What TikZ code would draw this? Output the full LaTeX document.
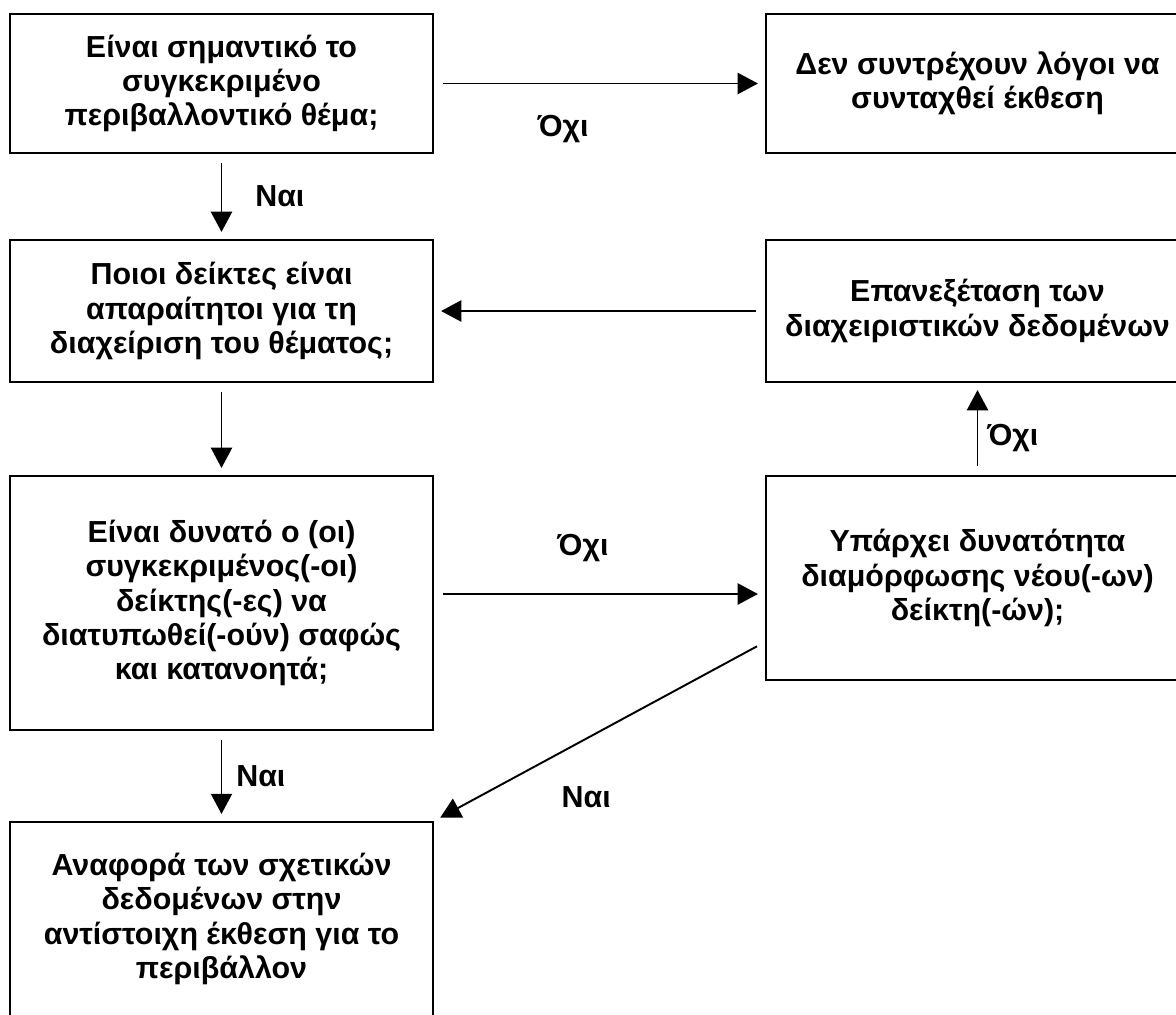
\documentclass[tikz,border=0pt]{standalone}
\usepackage{fontspec}
\setmainfont{Liberation Sans}
\usetikzlibrary{arrows.meta,positioning}
\begin{document}
\begin{tikzpicture}[box/.style={rectangle,draw,line width=1.2pt,minimum width=8.46cm,align=center,font=\bfseries\fontsize{17.3pt}{19.6pt}\selectfont},
        arr/.style={-{Triangle[length=11.5pt,width=12pt]},line width=1.1pt,shorten <=0.18cm,shorten >=0.14cm},
        lbl/.style={font=\bfseries\fontsize{17.3pt}{19.6pt}\selectfont}]
        \clip (0,0) rectangle (23.52,-20.28);
        \draw (4.43,-1.67) node (important) [box,minimum height=2.78cm] {Είναι σημαντικό το\\συγκεκριμένο\\περιβαλλοντικό θέμα;};
        \draw (19.55,-1.67) node (noreport) [box,minimum height=2.78cm] {Δεν συντρέχουν λόγοι να\\συνταχθεί έκθεση};
        \draw (4.43,-6.22) node (indicators) [box,minimum height=2.84cm] {Ποιοι δείκτες είναι\\απαραίτητοι για τη\\διαχείριση του θέματος;};
        \draw (19.55,-6.22) node (review) [box,minimum height=2.84cm] {Επανεξέταση των\\διαχειριστικών δεδομένων};
        \draw (4.43,-12.06) node (possible) [box,minimum height=5.08cm] {Είναι δυνατό ο (οι)\\συγκεκριμένος(-οι)\\δείκτης(-ες) να\\διατυπωθεί(-ούν) σαφώς\\και κατανοητά;};
        \draw (19.55,-11.56) node (newind) [box,minimum height=4.08cm] {Υπάρχει δυνατότητα\\διαμόρφωσης νέου(-ων)\\δείκτη(-ών);};
        \draw (4.43,-18.38) node (report) [box,minimum height=3.88cm] {Αναφορά των σχετικών\\δεδομένων στην\\αντίστοιχη έκθεση για το\\περιβάλλον};

        \draw [arr] (important.east) to node [lbl,below=0.5cm,pos=0.39] {Όχι} (noreport.west);
        \draw [arr] (important.south) to node [lbl,right=0.54cm] {Ναι} (indicators.north);
        \draw [arr] (review.west) to (indicators.east);
        \draw [arr] (indicators.south) to (possible.north);
        \draw [arr] ([yshift=0.18cm]possible.east) to node [lbl,above=0.5cm,pos=0.45] {Όχι} ([yshift=-0.32cm]newind.west);
        \draw [arr] (newind.north) to node [lbl,right=0.06cm,pos=0.4] {Όχι} (review.south);
        \draw [arr] ([yshift=-1.28cm]newind.west) to node [lbl,below=0.82cm,pos=0.54] {Ναι} (report.north east);
        \draw [arr] (possible.south) to node [lbl,right=0.16cm] {Ναι} (report.north);
    \end{tikzpicture}
\end{document}
